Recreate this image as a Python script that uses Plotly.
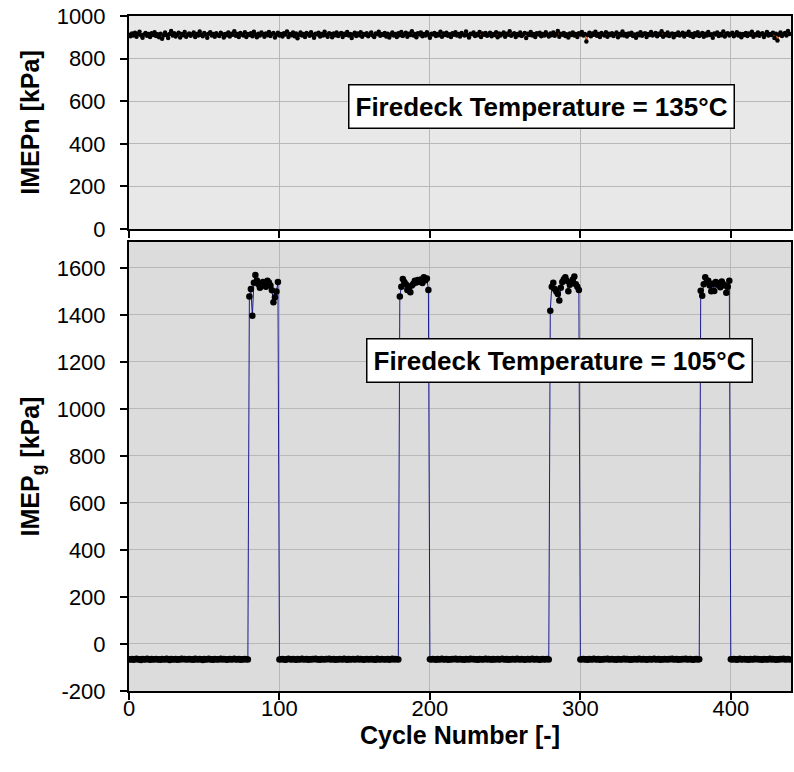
import plotly.graph_objects as go

# ---------------- data ----------------
cycles = list(range(440))

imepn_135 = [
    912, 905, 918, 909, 921, 903, 915, 926, 910, 898, 913, 920, 907, 916, 902, 919, 911, 924, 906, 914,
    900, 917, 893, 909, 922, 911, 897, 915, 930, 908, 919, 904, 913, 921, 899, 916, 910, 925, 903, 912,
    918, 907, 914, 922, 901, 916, 909, 927, 912, 905, 920, 913, 898, 917, 924, 908, 915, 903, 919, 911,
    906, 921, 914, 899, 916, 910, 923, 904, 917, 912, 928, 907, 915, 901, 920, 913, 909, 924, 902, 916,
    911, 919, 905, 926, 913, 900, 917, 909, 922, 914, 903, 918, 910, 925, 906, 915, 920, 899, 912, 921,
    908, 916, 904, 919, 913, 927, 902, 915, 910, 922, 905, 918, 896, 912, 923, 909, 916, 901, 920, 914,
    907, 924, 911, 898, 917, 913, 921, 904, 916, 909, 926, 912, 903, 919, 915, 900, 918, 910, 923, 906,
    914, 920, 902, 917, 911, 925, 908, 915, 897, 913, 921, 906, 918, 910, 924, 903, 916, 912, 919, 905,
    913, 922, 909, 901, 918, 914, 926, 907, 915, 911, 920, 904, 917, 899, 912, 923, 908, 916, 902, 919,
    910, 925, 906, 914, 921, 903, 917, 911, 928, 908, 915, 900, 919, 913, 922, 905, 916, 909, 924, 912,
    898, 917, 913, 920, 906, 915, 910, 926, 903, 918, 911, 921, 907, 914, 901, 919, 912, 924, 909, 916,
    904, 920, 913, 908, 927, 911, 899, 917, 914, 922, 906, 915, 910, 925, 902, 918, 912, 920, 907, 913,
    921, 905, 916, 911, 924, 900, 918, 909, 915, 922, 903, 917, 912, 928, 907, 914, 919, 901, 916, 910,
    923, 906, 913, 920, 897, 917, 911, 925, 908, 915, 902, 919, 913, 921, 905, 916, 909, 924, 912, 904,
    918, 910, 922, 907, 915, 930, 903, 917, 912, 920, 906, 914, 899, 918, 911, 923, 908, 916, 902, 919,
    913, 925, 909, 916, 880, 911, 921, 905, 918, 912, 926, 907, 915, 901, 920, 913, 909, 924, 903, 917,
    911, 919, 906, 914, 922, 900, 916, 910, 927, 908, 915, 904, 918, 912, 921, 906, 913, 898, 917, 910,
    924, 907, 915, 919, 902, 916, 911, 925, 909, 914, 920, 905, 917, 912, 928, 903, 915, 910, 922, 906,
    913, 918, 900, 916, 911, 923, 908, 914, 921, 904, 917, 912, 926, 907, 915, 901, 919, 910, 924, 906,
    912, 920, 903, 917, 909, 925, 911, 914, 898, 918, 913, 922, 906, 916, 910, 927, 904, 915, 919, 908,
    916, 921, 905, 913, 924, 909, 917, 900, 915, 911, 920, 906, 918, 912, 926, 903, 914, 910, 922, 907,
    915, 919, 902, 913, 925, 908, 916, 911, 921, 897, 917, 885, 912, 923, 906, 914, 920, 909, 930, 916,
]

motoring_a = [  # cycles 0-79
    -65, -66, -64, -67, -65, -63, -66, -65, -68, -64, -65, -66, -63, -65, -67, -64, -66, -65, -64, -66,
    -65, -67, -64, -65, -66, -63, -65, -68, -64, -66, -65, -64, -67, -65, -66, -63, -65, -64, -66, -65,
    -64, -66, -65, -67, -63, -65, -66, -64, -65, -68, -64, -66, -65, -63, -66, -65, -67, -64, -65, -66,
    -65, -63, -66, -64, -65, -67, -65, -64, -66, -65, -63, -66, -65, -64, -67, -65, -66, -64, -65, -66,
]
firing_1 = [1478, 1510, 1396, 1537, 1570, 1546, 1530, 1515, 1528, 1540,
            1532, 1520, 1545, 1538, 1525, 1505, 1454, 1475, 1499, 1540]  # cycles 80-99
motoring_b = [  # cycles 100-179
    -66, -65, -64, -66, -67, -65, -63, -65, -66, -64, -65, -67, -64, -66, -65, -63, -66, -65, -64, -67,
    -65, -66, -64, -65, -63, -66, -65, -67, -64, -65, -66, -64, -65, -63, -66, -65, -64, -67, -65, -66,
    -64, -65, -66, -63, -65, -67, -64, -66, -65, -64, -66, -65, -63, -66, -64, -65, -67, -65, -64, -66,
    -65, -64, -66, -65, -67, -63, -65, -66, -64, -65, -66, -65, -64, -67, -65, -63, -66, -64, -65, -66,
]
firing_2 = [1478, 1520, 1553, 1540, 1530, 1506, 1515, 1496, 1525, 1532,
            1545, 1538, 1548, 1541, 1550, 1536, 1560, 1547, 1555, 1506]  # cycles 180-199
motoring_c = [  # cycles 200-279
    -65, -66, -64, -65, -67, -64, -66, -65, -63, -66, -65, -64, -67, -65, -66, -64, -65, -63, -66, -65,
    -64, -66, -65, -67, -64, -65, -66, -63, -65, -64, -66, -65, -67, -64, -65, -66, -65, -63, -66, -64,
    -65, -67, -64, -66, -65, -64, -66, -65, -63, -65, -66, -64, -67, -65, -66, -64, -65, -66, -63, -65,
    -66, -64, -65, -67, -65, -64, -66, -65, -63, -66, -65, -64, -66, -67, -65, -64, -66, -65, -64, -66,
]
firing_3 = [1418, 1520, 1537, 1510, 1499, 1489, 1461, 1515, 1540, 1552,
            1560, 1545, 1500, 1528, 1538, 1550, 1563, 1530, 1520, 1506]  # cycles 280-299
motoring_d = [  # cycles 300-379
    -66, -65, -64, -66, -65, -67, -64, -65, -66, -63, -65, -66, -64, -67, -65, -66, -64, -65, -63, -66,
    -65, -64, -66, -65, -67, -64, -65, -66, -65, -63, -66, -64, -65, -67, -65, -66, -64, -65, -66, -63,
    -65, -66, -64, -65, -67, -65, -64, -66, -65, -63, -66, -65, -64, -67, -65, -66, -64, -65, -66, -64,
    -65, -63, -66, -65, -64, -67, -65, -66, -64, -65, -63, -66, -65, -64, -66, -67, -65, -64, -66, -65,
]
firing_4 = [1503, 1481, 1530, 1560, 1540, 1545, 1525, 1500, 1532, 1502,
            1540, 1528, 1535, 1518, 1542, 1530, 1525, 1494, 1520, 1545]  # cycles 380-399
motoring_e = [  # cycles 400-439
    -65, -66, -64, -65, -67, -65, -63, -66, -65, -64, -66, -65, -67, -64, -65, -66, -63, -65, -64, -66,
    -65, -67, -64, -65, -66, -65, -63, -66, -64, -65, -67, -65, -66, -64, -65, -63, -66, -65, -64, -66,
]
imepg_105 = (motoring_a + firing_1 + motoring_b + firing_2 + motoring_c
             + firing_3 + motoring_d + firing_4 + motoring_e)

x_ticks = [0, 100, 200, 300, 400]
x_tick_text = ["0", "100", "200", "300", "400"]
top_y_ticks = [0, 200, 400, 600, 800, 1000]
top_y_text = ["0", "200", "400", "600", "800", "1000"]
bot_y_ticks = [-200, 0, 200, 400, 600, 800, 1000, 1200, 1400, 1600]
bot_y_text = ["-200", "0", "200", "400", "600", "800", "1000", "1200", "1400", "1600"]
label_top = "Firedeck Temperature = 135°C"
label_bot = "Firedeck Temperature = 105°C"

# ---------------- figure ----------------
FONT = "Arial, Liberation Sans, sans-serif"
TICK_SIZE = 22
TITLE_SIZE = 25
fig = go.Figure()

fig.add_trace(go.Scatter(
    x=cycles, y=imepn_135, mode="lines+markers", xaxis="x", yaxis="y",
    line=dict(color="#E8641A", width=1.5),
    marker=dict(color="black", size=4.5), showlegend=False))

fig.add_trace(go.Scatter(
    x=cycles, y=imepg_105, mode="lines+markers", xaxis="x2", yaxis="y2",
    line=dict(color="#1a1a90", width=1),
    marker=dict(color="black", size=6.5), showlegend=False))

axis_common = dict(
    showline=True, linecolor="black", linewidth=2, mirror=True,
    ticks="outside", ticklen=7, tickwidth=2, tickcolor="black",
    showgrid=True, gridcolor="#b8b8b8", gridwidth=1, zeroline=False,
    tickfont=dict(family=FONT, size=TICK_SIZE, color="black"),
)

fig.update_layout(
    width=794, height=772,
    margin=dict(l=129, r=1, t=16, b=81),
    paper_bgcolor="white",
    font=dict(family=FONT, color="black"),
    xaxis=dict(domain=[0, 1], range=[0, 440], tickvals=x_ticks, showticklabels=False,
               anchor="y", **axis_common),
    yaxis=dict(domain=[0.6844, 1.0], range=[0, 1000], tickvals=top_y_ticks, ticktext=top_y_text,
               anchor="x", ticklabelstandoff=10,
               title=dict(text="<b>IMEPn [kPa]</b>", font=dict(family=FONT, size=TITLE_SIZE), standoff=10),
               **axis_common),
    xaxis2=dict(domain=[0, 1], range=[0, 440], tickvals=x_ticks, ticktext=x_tick_text, anchor="y2",
                ticklabelstandoff=-10,
                title=dict(text="<b>Cycle Number [-]</b>", font=dict(family=FONT, size=TITLE_SIZE), standoff=0),
                **axis_common),
    yaxis2=dict(domain=[0, 0.6652], range=[-200, 1710], tickvals=bot_y_ticks, ticktext=bot_y_text,
                anchor="x2", ticklabelstandoff=10,
                title=dict(text="<b>IMEP<sub>g</sub> [kPa]</b>", font=dict(family=FONT, size=TITLE_SIZE), standoff=10),
                **axis_common),
    shapes=[
        dict(type="rect", xref="x domain", yref="y domain", x0=0, x1=1, y0=0, y1=1,
             fillcolor="#e8e8e8", line=dict(width=0), layer="below"),
        dict(type="rect", xref="x2 domain", yref="y2 domain", x0=0, x1=1, y0=0, y1=1,
             fillcolor="#dcdcdc", line=dict(width=0), layer="below"),
    ],
    annotations=[
        dict(text="<b>" + label_top + "</b>", x=274, y=573, xref="x", yref="y",
             showarrow=False, font=dict(family=FONT, size=26, color="black"),
             bgcolor="white", bordercolor="black", borderwidth=1.5, borderpad=6),
        dict(text="<b>" + label_bot + "</b>", x=286, y=1204, xref="x2", yref="y2",
             showarrow=False, font=dict(family=FONT, size=26, color="black"),
             bgcolor="white", bordercolor="black", borderwidth=1.5, borderpad=6),
    ],
    plot_bgcolor="#e8e8e8",
)

fig.write_html("out.html")
